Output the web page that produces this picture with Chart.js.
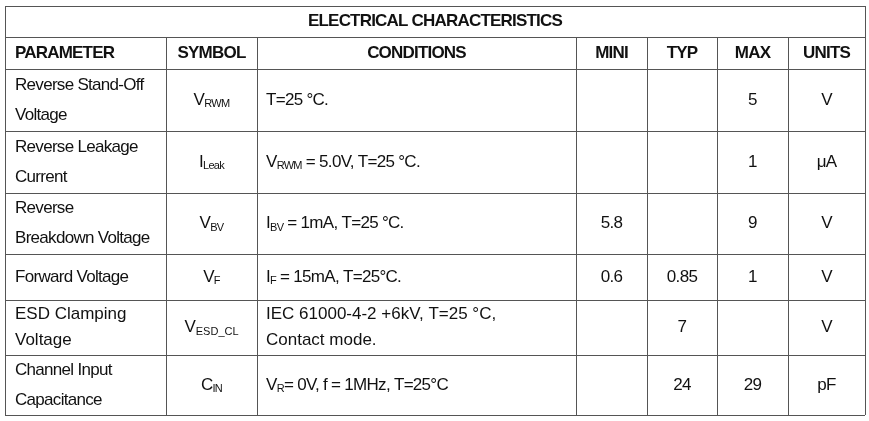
<!DOCTYPE html>
<html lang="en">
<head>
<meta charset="UTF-8">
<title>Electrical Characteristics</title>
<script src="https://cdn.jsdelivr.net/npm/chart.js"></script>
<style>
  html, body { margin: 0; padding: 0; background: #fff; }
  #wrap { width: 869px; height: 421px; }
</style>
</head>
<body>
<div id="wrap"><canvas id="tbl"></canvas></div>
<script>
// --- table data ---
const title = 'ELECTRICAL CHARACTERISTICS';
const headers = ['PARAMETER', 'SYMBOL', 'CONDITIONS', 'MINI', 'TYP', 'MAX', 'UNITS'];
// "_{..}" marks subscript text, "\n" splits lines
const parameters = ['Reverse Stand-Off\nVoltage', 'Reverse Leakage\nCurrent', 'Reverse\nBreakdown Voltage',
  'Forward Voltage', 'ESD Clamping\nVoltage', 'Channel Input\nCapacitance'];
const symbols = ['V_{RWM}', 'I_{Leak}', 'V_{BV}', 'V_{F}', 'V_{ESD_CL}', 'C_{IN}'];
const conditions = ['T=25 °C.', 'V_{RWM} = 5.0V, T=25 °C.', 'I_{BV} = 1mA, T=25 °C.', 'I_{F} = 15mA, T=25°C.',
  'IEC 61000-4-2 +6kV, T=25 °C,\nContact mode.', 'V_{R}= 0V, f = 1MHz, T=25°C'];
const minValues = ['', '', '5.8', '0.6', '', ''];
const typValues = ['', '', '', '0.85', '7', '24'];
const maxValues = ['5', '1', '9', '1', '', '29'];
const units = ['V', 'μA', 'V', 'V', 'V', 'pF'];

// --- layout (in scale units == page pixels) ---
const colEdges = [5, 166, 257, 576, 647, 717, 788, 865];
const rowEdges = [6, 37, 69, 131, 193, 254, 300, 355, 415];
const FONT = '"Liberation Sans", Arial, sans-serif';

function segments(s) {
  const out = [];
  const re = /_\{([^}]*)\}/g;
  let last = 0, m;
  while ((m = re.exec(s))) {
    if (m.index > last) out.push([s.slice(last, m.index), false]);
    out.push([m[1], true]);
    last = re.lastIndex;
  }
  if (last < s.length) out.push([s.slice(last), false]);
  return out;
}

function drawRich(ctx, s, x, y, align, size, bold, spacing) {
  const segs = segments(s);
  const main = (bold ? 'bold ' : '') + size + 'px ' + FONT;
  const sub = Math.round(size * 0.62) + 'px ' + FONT;
  ctx.letterSpacing = spacing;
  let w = 0;
  segs.forEach(([t, isSub]) => { ctx.font = isSub ? sub : main; w += ctx.measureText(t).width; });
  let cx = align === 'center' ? x - w / 2 : x;
  ctx.textAlign = 'left';
  ctx.textBaseline = 'middle';
  segs.forEach(([t, isSub]) => {
    ctx.font = isSub ? sub : main;
    ctx.fillText(t, cx, isSub ? y + 4 : y);
    cx += ctx.measureText(t).width;
  });
}

const tablePlugin = {
  id: 'tablePlugin',
  afterDraw(chart) {
    const ctx = chart.ctx;
    const xs = chart.scales.x, ys = chart.scales.y;
    const px = v => xs.getPixelForValue(v);
    const py = v => ys.getPixelForValue(v);
    ctx.save();
    ctx.strokeStyle = '#555';
    ctx.lineWidth = 1;
    ctx.fillStyle = '#111';

    // borders
    rowEdges.forEach(r => {
      ctx.beginPath(); ctx.moveTo(px(colEdges[0]), py(r) + 0.5); ctx.lineTo(px(colEdges[7]), py(r) + 0.5); ctx.stroke();
    });
    colEdges.forEach((c, i) => {
      const top = (i === 0 || i === colEdges.length - 1) ? rowEdges[0] : rowEdges[1];
      ctx.beginPath(); ctx.moveTo(px(c) + 0.5, py(top)); ctx.lineTo(px(c) + 0.5, py(rowEdges[8])); ctx.stroke();
    });

    // title and headers
    drawRich(ctx, title, px((colEdges[0] + colEdges[7]) / 2), py((rowEdges[0] + rowEdges[1]) / 2), 'center', 17, true, '-0.8px');
    headers.forEach((h, i) => {
      const cx = i === 0 ? px(colEdges[0]) + 10 : px((colEdges[i] + colEdges[i + 1]) / 2);
      drawRich(ctx, h, cx, py((rowEdges[1] + rowEdges[2]) / 2), i === 0 ? 'left' : 'center', 17, true, '-0.8px');
    });

    // body rows
    parameters.forEach((p, r) => {
      const top = rowEdges[r + 2], bot = rowEdges[r + 3];
      const mid = py((top + bot) / 2);
      const esd = r === 4;
      const sp = esd ? '0px' : '-0.7px';
      const lines = p.split('\n');
      lines.forEach((ln, k) => {
        const y = lines.length === 1 ? mid : mid + (k === 0 ? -15 : 15);
        drawRich(ctx, ln, px(colEdges[0]) + 10, esd ? mid + (k === 0 ? -13 : 13) : y, 'left', 17, false, sp);
      });
      drawRich(ctx, symbols[r], px((colEdges[1] + colEdges[2]) / 2), mid, 'center', 17, false, sp);
      const cl = conditions[r].split('\n');
      cl.forEach((ln, k) => {
        const y = cl.length === 1 ? mid : mid + (k === 0 ? -13 : 13);
        drawRich(ctx, ln, px(colEdges[2]) + 9, y, 'left', 17, false, sp);
      });
      [minValues[r], typValues[r], maxValues[r], units[r]].forEach((v, j) => {
        if (v) drawRich(ctx, v, px((colEdges[j + 3] + colEdges[j + 4]) / 2), mid, 'center', 17, false, '-0.7px');
      });
    });
    ctx.restore();
  }
};

new Chart(document.getElementById('tbl'), {
  type: 'scatter',
  data: { datasets: [{ data: [] }] },
  options: {
    responsive: true,
    maintainAspectRatio: false,
    animation: false,
    layout: { padding: 0 },
    plugins: { legend: { display: false }, tooltip: { enabled: false } },
    scales: {
      x: { type: 'linear', min: 0, max: 869, display: false },
      y: { type: 'linear', min: 0, max: 421, reverse: true, display: false }
    }
  },
  plugins: [tablePlugin]
});
</script>
</body>
</html>
